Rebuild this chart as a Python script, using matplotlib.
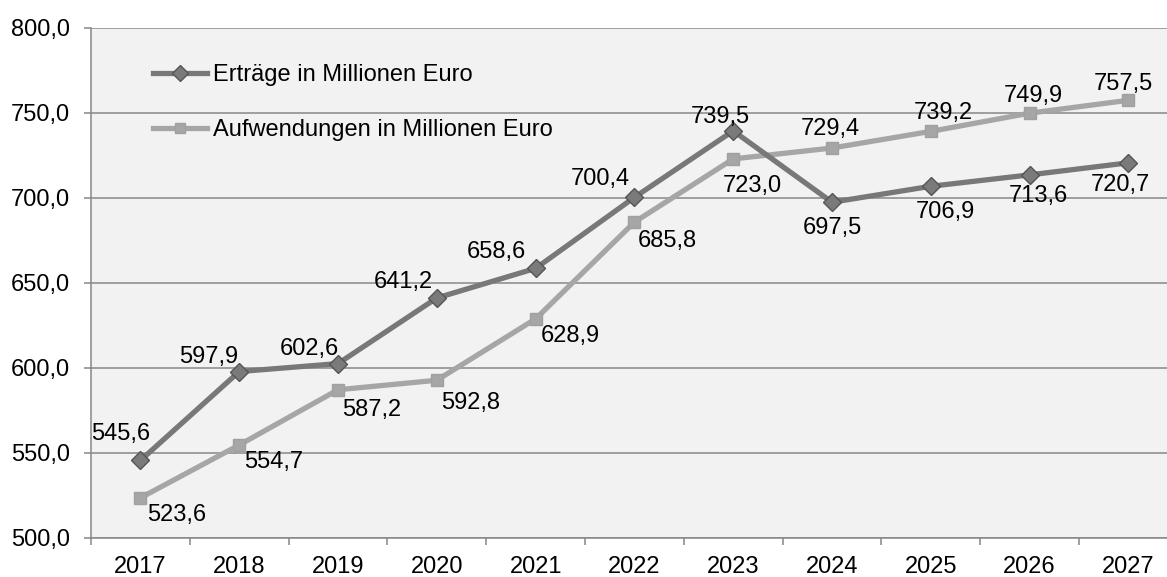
# -*- coding: UTF-8 -*-
import numpy as np
import matplotlib
matplotlib.use("Agg")
import matplotlib.pyplot as plt
from matplotlib.ticker import FixedLocator, FuncFormatter

years = ["2017", "2018", "2019", "2020", "2021", "2022",
         "2023", "2024", "2025", "2026", "2027"]
ertraege = [545.6, 597.9, 602.6, 641.2, 658.6, 700.4,
            739.5, 697.5, 706.9, 713.6, 720.7]
aufwendungen = [523.6, 554.7, 587.2, 592.8, 628.9, 685.8,
                723.0, 729.4, 739.2, 749.9, 757.5]

name_ertraege = "Erträge in Millionen Euro"
name_aufwendungen = "Aufwendungen in Millionen Euro"

# label offsets in pixels (dx, dy), dy positive = up
off_ertraege = [(-20, 26), (-31, 15), (-29, 15), (-34, 16), (-39, 16), (-34, 18),
                (-13, 14), (0, -26), (15, -26), (9, -21), (-8, -22)]
off_aufwendungen = [(36, -17), (34, -17), (34, -20), (34, -23), (35, -17), (33, -19),
                    (19, -27), (-2, 19), (12, 18), (4, 17), (-5, 16)]

plt.rcParams['font.family'] = ['Liberation Sans', 'DejaVu Sans']

fig = plt.figure(figsize=(11.67, 5.77), dpi=100)
ax = fig.add_axes([91/1167., 1-538/577., 1-91/1167., 510/577.])
ax.set_facecolor("#f2f2f2")

x = np.arange(len(years))
c_dark = "#787878"
c_light = "#a6a6a6"

ax.plot(x, ertraege, '-', color=c_dark, lw=3.8, marker='D', ms=9,
        mfc="#7a7a7a", mec="#555555", mew=1.0, label=name_ertraege, zorder=4)
ax.plot(x, aufwendungen, '-', color=c_light, lw=3.8, marker='s', ms=8,
        mfc="#a6a6a6", mec="#a0a0a0", mew=1.0, label=name_aufwendungen, zorder=3)

fs = 17
for xi, v, o in zip(x, ertraege, off_ertraege):
    ax.annotate(("%.1f" % v).replace('.', ','), (xi, v), xytext=o,
                textcoords='offset pixels', ha='center', va='center',
                fontsize=fs, color='black', zorder=6)
for xi, v, o in zip(x, aufwendungen, off_aufwendungen):
    ax.annotate(("%.1f" % v).replace('.', ','), (xi, v), xytext=o,
                textcoords='offset pixels', ha='center', va='center',
                fontsize=fs, color='black', zorder=6)

ax.set_ylim(500, 800)
ax.set_xlim(-0.5, 10.39)
ax.yaxis.set_major_locator(FixedLocator(np.arange(500, 801, 50)))
ax.yaxis.set_major_formatter(FuncFormatter(lambda v, p: ("%.1f" % v).replace('.', ',')))
ax.grid(axis='y', color="#878787", lw=1.1, zorder=1)
ax.set_axisbelow(True)

ax.set_xticks(x)
ax.set_xticklabels(years)
ax.set_xticks(np.arange(-0.5, 10.4, 1.0), minor=True)
ax.tick_params(axis='x', which='major', length=0, pad=13, labelsize=fs)
ax.tick_params(axis='x', which='minor', length=5, width=1.1, color="#878787")
ax.tick_params(axis='y', length=5, width=1.1, color="#878787", pad=10, labelsize=fs)

for s in ['top', 'right']:
    ax.spines[s].set_visible(False)
for s in ['left', 'bottom']:
    ax.spines[s].set_color("#878787")
    ax.spines[s].set_linewidth(1.1)

leg = ax.legend(loc='upper left', bbox_to_anchor=(0.049, 0.948), frameon=False,
                fontsize=fs, handlelength=2.3, handletextpad=0.22,
                labelspacing=1.42, borderaxespad=0, markerscale=0.85)

fig.savefig("out.png", dpi=100)
